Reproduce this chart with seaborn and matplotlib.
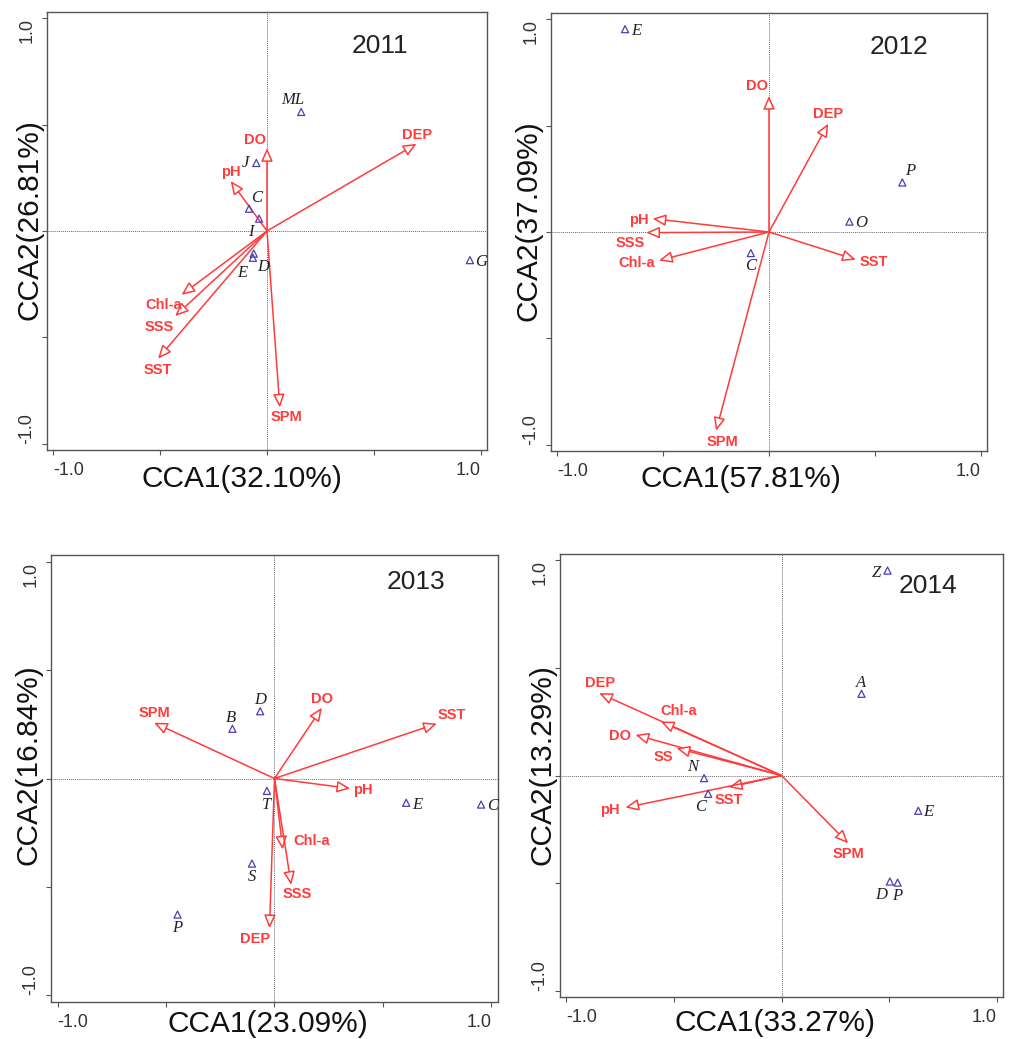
import matplotlib
matplotlib.use('Agg')
import matplotlib.pyplot as plt
import seaborn as sns
import pandas as pd

# ------------------------------------------------------------------------------
# Data
# ------------------------------------------------------------------------------
years = ['2011', '2012', '2013', '2014']
cca1_pct = ['32.10%', '57.81%', '23.09%', '33.27%']
cca2_pct = ['26.81%', '37.09%', '16.84%', '13.29%']

# environmental arrows (tips)
env_2011 = ['DO', 'DEP', 'pH', 'Chl-a', 'SSS', 'SST', 'SPM']
env_x_2011 = [0.0, 0.70, -0.17, -0.40, -0.43, -0.51, 0.06]
env_y_2011 = [0.39, 0.41, 0.235, -0.30, -0.40, -0.60, -0.83]

env_2012 = ['DO', 'DEP', 'pH', 'SSS', 'Chl-a', 'SST', 'SPM']
env_x_2012 = [0.0, 0.28, -0.55, -0.58, -0.52, 0.41, -0.25]
env_y_2012 = [0.64, 0.51, 0.063, -0.003, -0.134, -0.13, -0.935]

env_2013 = ['SPM', 'DO', 'SST', 'pH', 'Chl-a', 'SSS', 'DEP']
env_x_2013 = [-0.555, 0.218, 0.748, 0.349, 0.038, 0.077, -0.023]
env_y_2013 = [0.257, 0.326, 0.253, -0.046, -0.327, -0.49, -0.69]

env_2014 = ['DEP', 'Chl-a', 'DO', 'SS', 'SST', 'pH', 'SPM']
env_x_2014 = [-0.848, -0.561, -0.679, -0.488, -0.245, -0.726, 0.31]
env_y_2014 = [0.383, 0.251, 0.189, 0.127, -0.055, -0.149, -0.315]

# sites (triangles)
site_2011 = ['ML', 'J', 'C', 'I', 'E', 'D', 'G']
site_x_2011 = [0.16, -0.05, -0.084, -0.037, -0.066, -0.062, 0.95]
site_y_2011 = [0.56, 0.32, 0.105, 0.058, -0.126, -0.106, -0.137]

site_2012 = ['E', 'P', 'O', 'C']
site_x_2012 = [-0.68, 0.63, 0.38, -0.086]
site_y_2012 = [0.954, 0.233, 0.049, -0.099]

site_2013 = ['D', 'B', 'T', 'E', 'C', 'S', 'P']
site_x_2013 = [-0.066, -0.194, -0.035, 0.607, 0.952, -0.104, -0.447]
site_y_2013 = [0.31, 0.229, -0.057, -0.112, -0.12, -0.392, -0.627]

site_2014 = ['Z', 'A', 'N', 'C', 'E', 'D', 'P']
site_x_2014 = [0.493, 0.372, -0.36, -0.341, 0.636, 0.504, 0.54]
site_y_2014 = [0.953, 0.38, -0.012, -0.085, -0.164, -0.493, -0.498]

# ------------------------------------------------------------------------------
# Layout / label placement (pixel offsets from tip / marker)
# ------------------------------------------------------------------------------
env_off = {
    '2011': [(-12, 8), (1, 9), (0, 9), (-18, -10), (-16, -11), (0, -11), (7, -10)],
    '2012': [(-12, 10), (0, 10), (-14, -1), (-16, -10), (-22, -3), (18, -2), (6, -11)],
    '2013': [(0, 10), (0, 9), (15, 9), (13, -2), (29, 8), (6, -9), (-14, -11)],
    '2014': [(1, 10), (18, 11), (-15, -1), (-13, -9), (0, -13), (-15, -2), (0, -11)],
}
site_off = {
    '2011': [(-8, 12), (-11, 0), (8, 11), (-8, -13), (-11, -15), (9, -13), (11, -2)],
    '2012': [(11, -2), (8, 11), (12, -1), (0, -13)],
    '2013': [(0, 11), (-1, 11), (0, -14), (11, -2), (12, -1), (0, -13), (0, -13)],
    '2014': [(-11, -2), (-1, 11), (-11, 11), (-8, -13), (10, -1), (-9, -13), (0, -13)],
}
W, H = 1012, 1039
axes_px = [(47, 12, 487, 450), (551, 13, 987, 451),
           (51, 555, 498, 1002), (560, 554, 1003, 997)]
year_pos = [(0.527, 0.868), (0.613, 0.868), (0.653, 0.906), (0.682, 0.882)]
xlab_pos = [(0.443, -0.034), (0.435, -0.032), (0.486, -0.019), (0.486, -0.026)]
ylab_pos = [(-0.009, 0.526), (-0.02, 0.527), (-0.018, 0.531), (-0.007, 0.525)]

sns.set_style("white")
plt.rcParams['font.family'] = ['Liberation Sans', 'DejaVu Sans']

RED = '#ff3b3b'
BLUE = '#4a3fb5'
SPINE = '#555555'

fig = plt.figure(figsize=(W / 100, H / 100), dpi=100)

panels = [
    (env_2011, env_x_2011, env_y_2011, site_2011, site_x_2011, site_y_2011),
    (env_2012, env_x_2012, env_y_2012, site_2012, site_x_2012, site_y_2012),
    (env_2013, env_x_2013, env_y_2013, site_2013, site_x_2013, site_y_2013),
    (env_2014, env_x_2014, env_y_2014, site_2014, site_x_2014, site_y_2014),
]

for i, (env, ex, ey, sites, sx, sy) in enumerate(panels):
    l, t, r, b = axes_px[i]
    ax = fig.add_axes([l / W, 1 - b / H, (r - l) / W, (b - t) / H])
    ax.set_xlim(-1.03, 1.03)
    ax.set_ylim(-1.03, 1.03)

    ax.axhline(0, color='#6a6a6a', lw=0.7, ls=(0, (1, 1)), zorder=1)
    ax.axvline(0, color='#6a6a6a', lw=0.7, ls=(0, (1, 1)), zorder=1)

    # arrows
    for name, x, y, off in zip(env, ex, ey, env_off[years[i]]):
        ax.annotate('', xy=(x, y), xytext=(0, 0),
                    arrowprops=dict(arrowstyle='-|>,head_length=0.8,head_width=0.35',
                                    fc='white', ec=RED, lw=1.1,
                                    shrinkA=0, shrinkB=0), zorder=3)
        ax.annotate(name, xy=(x, y), xytext=off, textcoords='offset pixels',
                    ha='center', va='center', color=RED, fontsize=10.5,
                    fontweight='bold', zorder=4)

    # sites
    df = pd.DataFrame({'x': sx, 'y': sy, 'site': sites})
    sns.scatterplot(data=df, x='x', y='y', ax=ax, marker='^', s=26,
                    facecolor='none', edgecolor=BLUE, linewidth=0.9, zorder=5)
    for name, x, y, off in zip(sites, sx, sy, site_off[years[i]]):
        ax.annotate(name, xy=(x, y), xytext=off, textcoords='offset pixels',
                    ha='center', va='center', fontsize=12, style='italic',
                    family='Liberation Serif', color='#222222')

    ax.text(year_pos[i][0], year_pos[i][1], years[i], ha='center', va='center',
            fontsize=19, color='#222222')

    # ticks
    ax.set_xticks([-1, -0.5, 0, 0.5, 1], labels=['-1.0', '', '', '', '1.0'])
    ax.set_yticks([-1, -0.5, 0, 0.5, 1], labels=['-1.0', '', '', '', '1.0'])
    ax.tick_params(direction='out', length=3.5, width=0.8, colors=SPINE,
                   labelsize=13, labelcolor='#333333', pad=5,
                   bottom=True, left=True)
    xl = ax.get_xticklabels()
    xl[0].set_ha('left')
    xl[-1].set_ha('right')
    yl = ax.get_yticklabels()
    for lab in yl:
        lab.set_rotation(90)
    yl[0].set_va('bottom')
    yl[-1].set_va('top')

    for sp in ax.spines.values():
        sp.set_visible(True)
        sp.set_color(SPINE)
        sp.set_linewidth(1.0)

    ax.set_xlabel('CCA1(' + cca1_pct[i] + ')', fontsize=21.5, color='#111111')
    ax.set_ylabel('CCA2(' + cca2_pct[i] + ')', fontsize=21.5, color='#111111')
    ax.xaxis.set_label_coords(*xlab_pos[i])
    ax.yaxis.set_label_coords(*ylab_pos[i])

fig.savefig('out.png', dpi=100)
